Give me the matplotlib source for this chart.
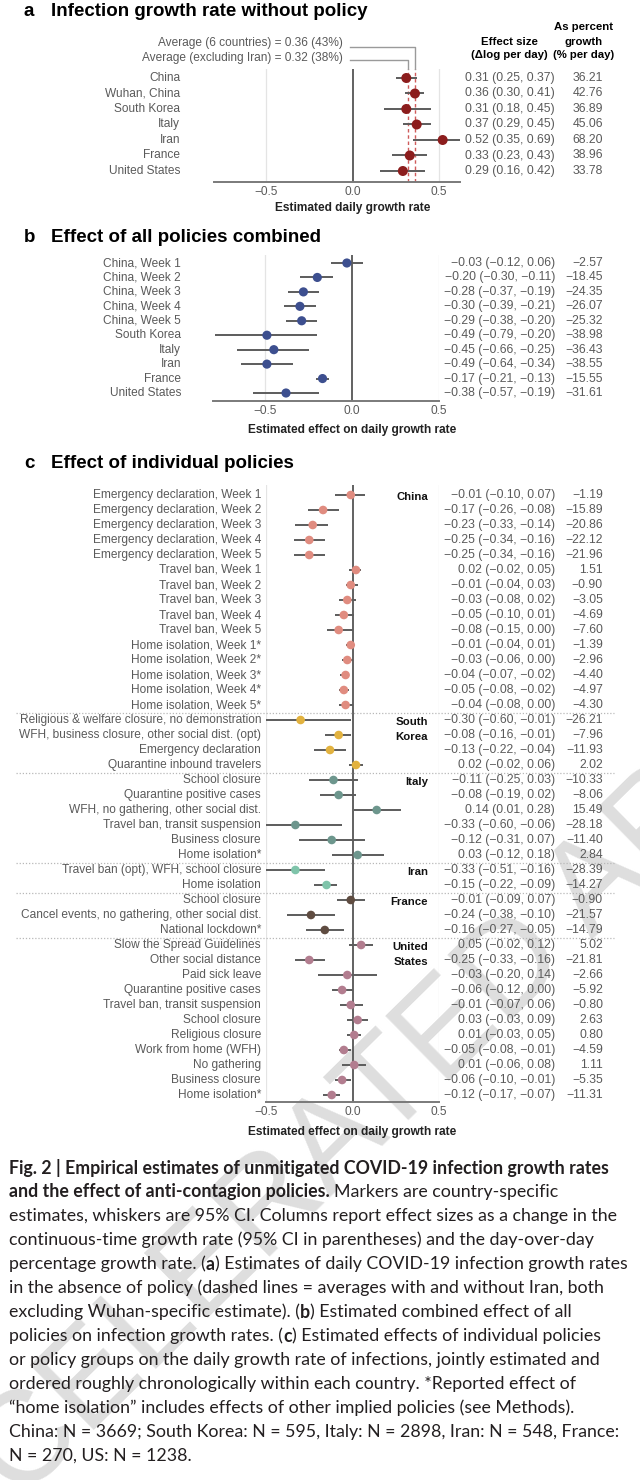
import matplotlib
matplotlib.use("Agg")
import matplotlib.pyplot as plt
from matplotlib.transforms import Affine2D, blended_transform_factory

plt.rcParams["font.family"] = ["Liberation Sans", "DejaVu Sans"]

# ---------------- data ----------------
# panel a: growth rate without policy
countries_a = ["China", "Wuhan, China", "South Korea", "Italy", "Iran", "France", "United States"]
est_a = [0.31, 0.36, 0.31, 0.37, 0.52, 0.33, 0.29]
lo_a = [0.25, 0.30, 0.18, 0.29, 0.35, 0.23, 0.16]
hi_a = [0.37, 0.41, 0.45, 0.45, 0.69, 0.43, 0.42]
pct_a = [36.21, 42.76, 36.89, 45.06, 68.20, 38.96, 33.78]
avg_values = [0.36, 0.32]
avg_labels = ["Average (6 countries) = 0.36 (43%)", "Average (excluding Iran) = 0.32 (38%)"]

# panel b: all policies combined
labels_b = ["China, Week 1", "China, Week 2", "China, Week 3", "China, Week 4", "China, Week 5",
            "South Korea", "Italy", "Iran", "France", "United States"]
est_b = [-0.03, -0.20, -0.28, -0.30, -0.29, -0.49, -0.45, -0.49, -0.17, -0.38]
lo_b = [-0.12, -0.30, -0.37, -0.39, -0.38, -0.79, -0.66, -0.64, -0.21, -0.57]
hi_b = [0.06, -0.11, -0.19, -0.21, -0.20, -0.20, -0.25, -0.34, -0.13, -0.19]
pct_b = [-2.57, -18.45, -24.35, -26.07, -25.32, -38.98, -36.43, -38.55, -15.55, -31.61]

# panel c: individual policies
country_c = (["China"] * 15 + ["South\nKorea"] * 4 + ["Italy"] * 6 + ["Iran"] * 2
             + ["France"] * 3 + ["United\nStates"] * 11)
labels_c = [
    "Emergency declaration, Week 1", "Emergency declaration, Week 2", "Emergency declaration, Week 3",
    "Emergency declaration, Week 4", "Emergency declaration, Week 5",
    "Travel ban, Week 1", "Travel ban, Week 2", "Travel ban, Week 3", "Travel ban, Week 4", "Travel ban, Week 5",
    "Home isolation, Week 1*", "Home isolation, Week 2*", "Home isolation, Week 3*",
    "Home isolation, Week 4*", "Home isolation, Week 5*",
    "Religious & welfare closure, no demonstration", "WFH, business closure, other social dist. (opt)",
    "Emergency declaration", "Quarantine inbound travelers",
    "School closure", "Quarantine positive cases", "WFH, no gathering, other social dist.",
    "Travel ban, transit suspension", "Business closure", "Home isolation*",
    "Travel ban (opt), WFH, school closure", "Home isolation",
    "School closure", "Cancel events, no gathering, other social dist.", "National lockdown*",
    "Slow the Spread Guidelines", "Other social distance", "Paid sick leave", "Quarantine positive cases",
    "Travel ban, transit suspension", "School closure", "Religious closure", "Work from home (WFH)",
    "No gathering", "Business closure", "Home isolation*",
]
est_c = [-0.01, -0.17, -0.23, -0.25, -0.25, 0.02, -0.01, -0.03, -0.05, -0.08,
         -0.01, -0.03, -0.04, -0.05, -0.04,
         -0.30, -0.08, -0.13, 0.02,
         -0.11, -0.08, 0.14, -0.33, -0.12, 0.03,
         -0.33, -0.15,
         -0.01, -0.24, -0.16,
         0.05, -0.25, -0.03, -0.06, -0.01, 0.03, 0.01, -0.05, 0.01, -0.06, -0.12]
lo_c = [-0.10, -0.26, -0.33, -0.34, -0.34, -0.02, -0.04, -0.08, -0.10, -0.15,
        -0.04, -0.06, -0.07, -0.08, -0.08,
        -0.60, -0.16, -0.22, -0.02,
        -0.25, -0.19, 0.01, -0.60, -0.31, -0.12,
        -0.51, -0.22,
        -0.09, -0.38, -0.27,
        -0.02, -0.33, -0.20, -0.12, -0.07, -0.03, -0.03, -0.08, -0.06, -0.10, -0.17]
hi_c = [0.07, -0.08, -0.14, -0.16, -0.16, 0.05, 0.03, 0.02, 0.01, 0.00,
        0.01, 0.00, -0.02, -0.02, 0.00,
        -0.01, -0.01, -0.04, 0.06,
        0.03, 0.02, 0.28, -0.06, 0.07, 0.18,
        -0.16, -0.09,
        0.07, -0.10, -0.05,
        0.12, -0.16, 0.14, 0.00, 0.06, 0.09, 0.05, -0.01, 0.08, -0.01, -0.07]
pct_c = [-1.19, -15.89, -20.86, -22.12, -21.96, 1.51, -0.90, -3.05, -4.69, -7.60,
         -1.39, -2.96, -4.40, -4.97, -4.30,
         -26.21, -7.96, -11.93, 2.02,
         -10.33, -8.06, 15.49, -28.18, -11.40, 2.84,
         -28.39, -14.27,
         -0.90, -21.57, -14.79,
         5.02, -21.81, -2.66, -5.92, -0.80, 2.63, 0.80, -4.59, 1.11, -5.35, -11.31]
country_colors = {"China": "#e08c80", "South\nKorea": "#e2b23f", "Italy": "#6d968d",
                  "Iran": "#7fc4aa", "France": "#5f4c41", "United\nStates": "#b27d8f"}

caption_lines = [
    [("Fig. 2 | Empirical estimates of unmitigated COVID-19 infection growth rates", True)],
    [("and the effect of anti-contagion policies.", True), (" Markers are country-specific", False)],
    [("estimates, whiskers are 95% CI. Columns report effect sizes as a change in the", False)],
    [("continuous-time growth rate (95% CI in parentheses) and the day-over-day", False)],
    [("percentage growth rate. (", False), ("a", True), (") Estimates of daily COVID-19 infection growth rates", False)],
    [("in the absence of policy (dashed lines = averages with and without Iran, both", False)],
    [("excluding Wuhan-specific estimate). (", False), ("b", True), (") Estimated combined effect of all", False)],
    [("policies on infection growth rates. (", False), ("c", True), (") Estimated effects of individual policies", False)],
    [("or policy groups on the daily growth rate of infections, jointly estimated and", False)],
    [("ordered roughly chronologically within each country. *Reported effect of", False)],
    [("\u201chome isolation\u201d includes effects of other implied policies (see Methods).", False)],
    [("China: N = 3669; South Korea: N = 595, Italy: N = 2898, Iran: N = 548, France:", False)],
    [("N = 270, US: N = 1238.", False)],
]
caption_right = [622, 571, 601, 580, 616, 593, 573, 604, 597, 577, 577, 577, 169]

# ---------------- layout ----------------
W, H = 640, 1480
fig = plt.figure(figsize=(W / 100, H / 100), dpi=100)
px = Affine2D().scale(1 / W, -1 / H).translate(0, 1) + fig.transFigure

GRAY_TXT = "#5a5a5a"
FS = 8.6


def f2(v):
    return f"{v:.2f}".replace("-", "\u2212")


def make_axes(x0, x1, y0, y1, r0, step, xlim):
    ax = fig.add_axes([x0 / W, 1 - y1 / H, (x1 - x0) / W, (y1 - y0) / H])
    ax.set_facecolor("none")
    ax.set_xlim(xlim)
    ax.set_ylim((y1 - r0) / step, (y0 - r0) / step)
    for s in ("top", "left", "right"):
        ax.spines[s].set_visible(False)
    ax.spines["bottom"].set_color("#7a7a7a")
    ax.spines["bottom"].set_linewidth(1.4)
    ax.set_yticks([])
    ax.set_xticks([-0.5, 0.0, 0.5], ["\u22120.5", "0.0", "0.5"])
    ax.tick_params(axis="x", length=0, pad=3, labelsize=FS, labelcolor=GRAY_TXT)
    for v in (-0.5, 0.5):
        ax.axvline(v, color="#e4e4e4", lw=0.9, zorder=0)
    ax.axvline(0, color="#555555", lw=1.3, zorder=1)
    return ax


def forest(ax, est, lo, hi, colors, ms, label_x, labels, xlabel, xlabel_y):
    rows = list(range(len(est)))
    ax.hlines(rows, lo, hi, color="#5c5c5c", lw=1.4, zorder=2)
    ax.scatter(est, rows, s=ms ** 2, c=colors, edgecolors="none", zorder=3)
    rt = blended_transform_factory(px, ax.transData)
    for i in rows:
        fig.text(label_x, i, labels[i], transform=rt, ha="right", va="center",
                 fontsize=FS, color=GRAY_TXT)
    fig.text(0.0, xlabel_y, xlabel, transform=blended_transform_factory(ax.transData, px),
             ha="center", va="center", fontsize=FS, fontweight="bold", color="#222222")
    return rt


def table(rt, est, lo, hi, pct):
    for i in range(len(est)):
        fig.text(555, i, f"{f2(est[i])} ({f2(lo[i])}, {f2(hi[i])})", transform=rt,
                 ha="right", va="center", fontsize=FS + 0.2, color=GRAY_TXT)
        fig.text(603, i, f2(pct[i]), transform=rt, ha="right", va="center",
                 fontsize=FS + 0.2, color=GRAY_TXT)


def title(y, letter, text):
    fig.text(24, y, letter, transform=px, ha="left", va="center", fontsize=13.5, fontweight="bold")
    fig.text(51, y, text, transform=px, ha="left", va="center", fontsize=13.5, fontweight="bold")


# watermark behind everything
fig.text(-110, 1630, "ACCELERATED ARTICLE PREVIEW", transform=px, rotation=44.5,
         rotation_mode="anchor", ha="left", va="baseline", fontsize=94,
         color="#dedede", zorder=-5)

# ---- panel a ----
title(12, "a", "Infection growth rate without policy")
ax_a = make_axes(214, 460, 69, 182, 78, 15.5, (-0.8, 0.62))
for v in avg_values:
    ax_a.axvline(v, color="#cf5b5b", lw=1.0, ls=(0, (2.5, 2)), zorder=1.5)
rt_a = forest(ax_a, est_a, lo_a, hi_a, ["#8c1d1d"] * len(est_a), 7.2, 180, countries_a,
              "Estimated daily growth rate", 208)
table(rt_a, est_a, lo_a, hi_a, pct_a)
for v, lab, ty, ly in zip(avg_values, avg_labels, [43, 58], [47, 60]):
    fig.text(343, ty, lab, transform=px, ha="right", va="center", fontsize=FS, color=GRAY_TXT)
    vx = ax_a.transData.transform((v, 0))[0]
    fig.add_artist(plt.Line2D([350, vx, vx], [ly, ly, 69], transform=px, color="#9a9a9a", lw=1.0))
for txt, y in zip(["Effect size", "(\u0394log per day)"], [42, 55]):
    fig.text(509, y, txt, transform=px, ha="center", va="center", fontsize=8.2, fontweight="bold")
for txt, y in zip(["As percent", "growth", "(% per day)"], [27, 42, 55]):
    fig.text(584, y, txt, transform=px, ha="center", va="center", fontsize=8.2, fontweight="bold")

# ---- panel b ----
title(237, "b", "Effect of all policies combined")
ax_b = make_axes(213, 439, 255, 401, 263, 130 / 9, (-0.8, 0.5))
rt_b = forest(ax_b, est_b, lo_b, hi_b, ["#3d4f8f"] * len(est_b), 6.6, 181, labels_b,
              "Estimated effect on daily growth rate", 430)
table(rt_b, est_b, lo_b, hi_b, pct_b)

# ---- panel c ----
title(463, "c", "Effect of individual policies")
ax_c = make_axes(266, 439, 485, 1102, 495, 15, (-0.5, 0.5))
colors_c = [country_colors[c] for c in country_c]
rt_c = forest(ax_c, est_c, lo_c, hi_c, colors_c, 6.2, 261, labels_c,
              "Estimated effect on daily growth rate", 1132)
table(rt_c, est_c, lo_c, hi_c, pct_c)
starts = [i for i in range(len(country_c)) if i == 0 or country_c[i] != country_c[i - 1]]
for s in starts:
    for j, line in enumerate(country_c[s].split("\n")):
        fig.text(428, s + j + 0.15, line, transform=rt_c, ha="right", va="center",
                 fontsize=8.2, fontweight="bold", color="#111111")
    if s > 0:
        fig.add_artist(plt.Line2D([16, 614], [s - 0.5, s - 0.5], transform=rt_c,
                                  color="#b8b8b8", lw=0.9, ls=(0, (1, 1.5))))

# ---- caption ----
renderer = fig.canvas.get_renderer()
CAP_FONT = ["Lato", "DejaVu Sans"]


def layout_caption(size, draw=True):
    widths = []
    made = []
    for k, segs in enumerate(caption_lines):
        x = 9
        y = 1168 + 24 * k
        for text, bold in segs:
            if text.startswith(" "):
                sp = fig.text(0, 0, "a a", fontsize=size, family=CAP_FONT)
                nsp = fig.text(0, 0, "aa", fontsize=size, family=CAP_FONT)
                x += sp.get_window_extent(renderer).width - nsp.get_window_extent(renderer).width
                sp.remove()
                nsp.remove()
                text = text[1:]
            t = fig.text(x, y, text, transform=px, ha="left", va="center", fontsize=size,
                         family=CAP_FONT, fontweight="bold" if bold else "normal", color="#231f20")
            x += t.get_window_extent(renderer).width
            made.append(t)
        widths.append(x - 9)
    if not draw:
        for t in made:
            t.remove()
    return widths


base = 10.0
w0 = layout_caption(base, draw=False)
ratios = sorted((caption_right[k] - 9) / w0[k] for k in range(len(w0) - 1))
scale = ratios[len(ratios) // 2]
layout_caption(base * scale)

fig.savefig("out.png", dpi=100)
